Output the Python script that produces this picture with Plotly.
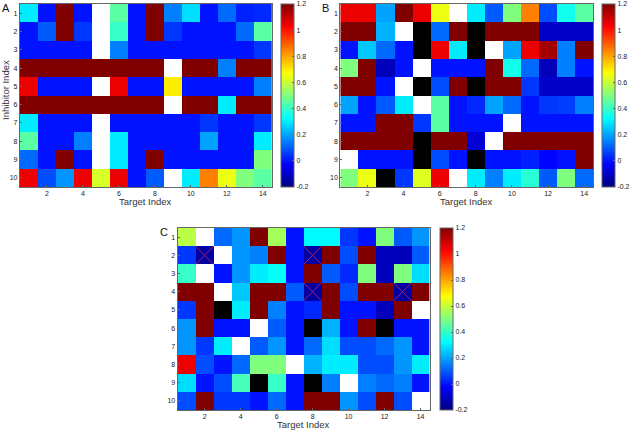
import plotly.graph_objects as go

W = None   # white (missing)
K = "K"    # black cell
R = 1.2    # saturated dark red

rows = list(range(1, 11))
cols = list(range(1, 15))
xticks = [2, 4, 6, 8, 10, 12, 14]
cbar_ticks = [-0.2, 0, 0.2, 0.4, 0.6, 0.8, 1, 1.2]
cbar_labels = ["-0.2", "0", "0.2", "0.4", "0.6", "0.8", "1", "1.2"]

panel_A = [
    [0.30, 0.00, R, 0.00, W, 0.45, 0.00, R, 0.15, 0.28, 0.00, 0.12, 0.02, 0.03],
    [0.00, 0.10, R, 0.05, W, 0.40, 0.00, R, 0.05, 0.00, 0.00, 0.00, 0.12, 0.45],
    [0.00, 0.00, 0.00, 0.00, W, 0.15, 0.00, 0.00, 0.00, 0.00, 0.00, 0.00, 0.00, 0.05],
    [R, R, R, R, R, R, R, R, W, R, R, 0.15, R, R],
    [1.05, 0.00, 0.00, 0.00, W, 1.05, 0.00, 0.00, 0.70, 0.00, 0.00, 0.00, 0.00, 0.15],
    [R, R, R, R, R, R, R, R, W, R, R, 0.30, R, R],
    [0.30, 0.00, 0.00, 0.00, W, 0.00, 0.00, 0.00, 0.00, 0.00, 0.05, 0.00, 0.00, 0.05],
    [0.45, 0.00, 0.00, 0.15, W, 0.30, 0.00, 0.00, 0.00, 0.00, 0.20, 0.00, 0.00, 0.30],
    [0.12, 0.00, R, 0.00, W, 0.30, 0.00, R, 0.00, 0.00, 0.00, 0.00, 0.00, 0.50],
    [1.05, 0.08, 0.18, 1.05, 0.62, 1.05, 0.00, 0.10, W, 0.30, 0.85, 0.65, 0.50, 0.45],
]

panel_B = [
    [1.05, 1.05, 0.20, R, 1.05, 0.65, W, 0.30, 0.10, 0.50, 0.85, 0.08, 0.35, 0.45],
    [R, R, 0.22, W, K, 0.12, R, K, R, R, R, -0.10, -0.10, -0.10],
    [0.00, 0.25, 0.12, 0.00, K, 1.05, 0.30, K, W, 0.20, 1.05, 1.15, 0.15, R],
    [0.50, R, -0.12, 0.00, W, 0.00, 0.00, 0.00, R, 0.35, 0.12, -0.12, 0.15, 0.00],
    [R, R, 0.00, W, K, 0.08, R, K, R, R, 0.05, -0.10, -0.10, -0.10],
    [0.20, 0.00, 0.10, 0.30, W, 0.45, 0.00, 0.03, 0.20, 0.12, 0.00, 0.05, 0.06, 0.15],
    [0.00, 0.00, R, R, 0.05, 0.45, 0.00, 0.00, 0.00, W, 0.00, 0.00, 0.00, 0.00],
    [R, R, R, R, K, R, R, -0.08, W, R, R, R, R, R],
    [W, 0.00, 0.00, 0.00, K, 0.08, 0.00, K, 0.00, 0.00, 0.02, -0.02, 0.00, R],
    [0.50, 0.65, K, 0.05, 0.63, 1.05, W, 0.30, 0.15, 0.30, 0.38, 0.10, 0.50, 0.12],
]

panel_C = [
    [0.58, W, 0.12, 0.18, R, 0.55, 0.00, 0.32, 0.32, 0.05, 0.00, 0.50, 0.10, 0.18],
    [0.05, -0.15, W, 0.18, 0.15, R, 0.00, -0.15, R, 0.08, R, -0.12, -0.12, 0.10],
    [0.40, W, 0.00, 0.18, 0.30, 0.33, 0.00, R, 0.10, 0.03, 0.50, -0.12, 0.50, 0.28],
    [R, R, W, 0.25, R, R, 0.10, -0.15, R, 0.08, R, R, -0.15, R],
    [0.05, R, K, 0.30, R, 0.15, 0.00, 0.03, R, 0.00, 0.00, -0.12, R, W],
    [0.18, R, 0.00, 0.00, W, 0.10, 0.00, K, 0.22, 0.00, R, K, 0.00, 0.00],
    [0.18, 0.05, 0.30, W, 0.10, 0.18, 0.00, 0.12, 0.28, 0.08, 0.08, 0.12, 0.18, 0.00],
    [1.05, 0.08, 0.00, 0.12, 0.50, 0.50, W, 0.22, 0.30, 0.30, 0.08, 0.08, 0.18, 0.30],
    [0.28, 0.00, 0.08, 0.42, K, 0.40, 0.00, K, 0.15, W, 0.15, 0.12, 0.15, 0.00],
    [0.08, R, 0.05, 0.05, 0.00, 0.12, 0.00, R, R, 0.18, 0.08, R, 0.08, W],
]
# cells of panel C crossed out: (target index, inhibitor index)
crossed_C_targets = [2, 8, 8, 13]
crossed_C_inhib = [2, 2, 4, 4]

jet = [
    [0.0, "rgb(0,0,128)"],
    [0.125, "rgb(0,0,255)"],
    [0.375, "rgb(0,255,255)"],
    [0.625, "rgb(255,255,0)"],
    [0.875, "rgb(255,0,0)"],
    [1.0, "rgb(128,0,0)"],
]

W_PX, H_PX = 633, 431


def fx(px):
    return px / W_PX


def fy(py):
    return 1 - py / H_PX


panels = [
    # name, data, plot x0,x1, y0(top),y1(bottom), cbar x
    ("A", panel_A, 20, 274, 4, 187, 283),
    ("B", panel_B, 343, 598, 4, 187, 607),
    ("C", panel_C, 179, 433, 228, 410, 443),
]

fig = go.Figure()
FAM = "Liberation Sans, Arial, sans-serif"
font = dict(family=FAM, size=7, color="#222")
tfont = dict(family=FAM, size=9.5, color="#333")
axcol = "#666"

for i, (name, data, x0, x1, y0, y1, cbx) in enumerate(panels):
    sfx = "" if i == 0 else str(i + 1)
    xa, ya = "x" + sfx, "y" + sfx
    z = [[v if isinstance(v, (int, float)) else None for v in r] for r in data]
    zk = [[1 if v == K else None for v in r] for r in data]
    fig.add_trace(go.Heatmap(
        z=z, x=cols, y=rows, xaxis=xa, yaxis=ya,
        colorscale=jet, zmin=-0.2, zmax=1.2, hoverongaps=False,
        colorbar=dict(
            x=fx(cbx), xanchor="left", xref="paper",
            y=(fy(y0) + fy(y1)) / 2, yanchor="middle",
            len=fy(y0) - fy(y1), lenmode="fraction",
            thickness=13, thicknessmode="pixels",
            outlinewidth=1, outlinecolor=axcol,
            tickvals=cbar_ticks, ticktext=cbar_labels,
            ticks="inside", ticklen=2, tickcolor=axcol,
            tickfont=font, xpad=0, ypad=0,
        ),
    ))
    fig.add_trace(go.Heatmap(
        z=zk, x=cols, y=rows, xaxis=xa, yaxis=ya,
        colorscale=[[0, "black"], [1, "black"]], showscale=False,
        hoverongaps=False,
    ))
    fig.layout["xaxis" + sfx] = dict(
        domain=[fx(x0), fx(x1)], range=[0.5, 14.5], anchor=ya,
        tickvals=xticks, ticks="inside", ticklen=2, tickcolor=axcol,
        showline=True, linecolor=axcol, linewidth=1, mirror=True,
        showgrid=False, zeroline=False, tickfont=font,
    )
    fig.layout["yaxis" + sfx] = dict(
        domain=[fy(y1), fy(y0)], range=[10.5, 0.5], anchor=xa,
        tickvals=rows, ticks="inside", ticklen=2, tickcolor=axcol,
        showline=True, linecolor=axcol, linewidth=1, mirror=True,
        showgrid=False, zeroline=False, tickfont=font,
    )
    fig.add_annotation(text=name, x=fx(x0 - 20), y=fy(y0 - 4), xref="paper", yref="paper",
                       xanchor="left", yanchor="top", showarrow=False,
                       font=dict(family=FAM, size=11, color="#111"))
    fig.add_annotation(text="Target Index", x=fx((x0 + x1) / 2), y=fy(y1 + 21),
                       xref="paper", yref="paper", xanchor="center", yanchor="bottom",
                       showarrow=False, font=tfont, borderpad=0)

fig.add_annotation(text="Inhibitor Index", x=fx(5), y=fy(90), xref="paper", yref="paper",
                   xanchor="center", yanchor="middle", textangle=-90, showarrow=False,
                   font=tfont)

# crosses over the flagged cells of panel C
cx, cy = [], []
for t, h in zip(crossed_C_targets, crossed_C_inhib):
    cx += [t - 0.5, t + 0.5, None, t - 0.5, t + 0.5, None]
    cy += [h - 0.5, h + 0.5, None, h + 0.5, h - 0.5, None]
fig.add_trace(go.Scatter(
    x=cx, y=cy, xaxis="x3", yaxis="y3", mode="lines",
    line=dict(width=1, color="#b0205a"),
    showlegend=False, hoverinfo="skip",
))

fig.update_layout(
    width=W_PX, height=H_PX, margin=dict(l=0, r=0, t=0, b=0),
    paper_bgcolor="white", plot_bgcolor="white", showlegend=False,
)
fig.write_html(
    "out.html",
    config={"displayModeBar": False},
    post_script="document.body.style.margin='0';document.body.style.padding='0';"
                "document.body.style.overflow='hidden';",
)
